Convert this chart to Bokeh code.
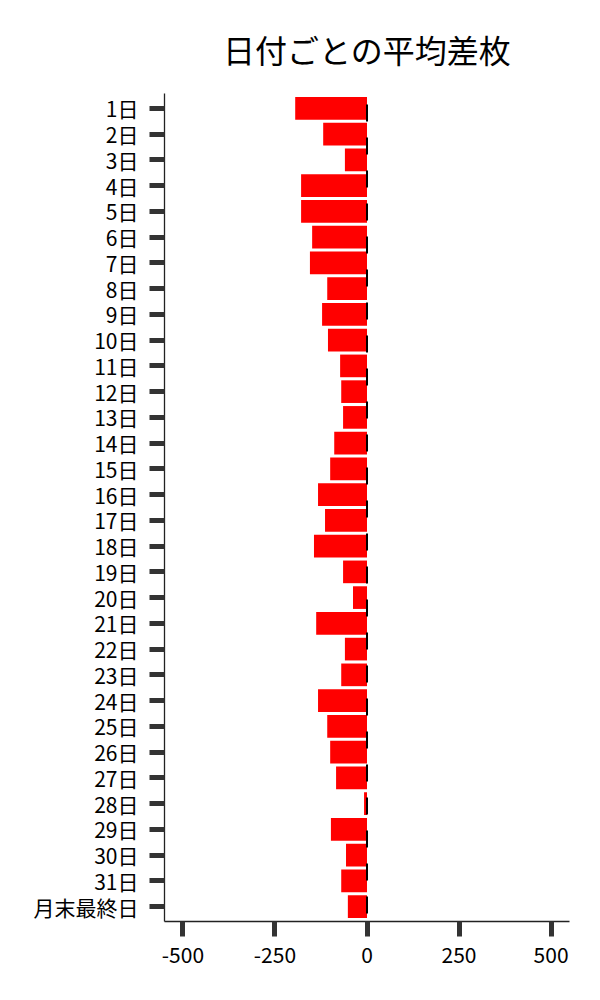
from bokeh.plotting import figure
from bokeh.models import Range1d, FixedTicker, Title
from bokeh.embed import file_html
from bokeh.resources import INLINE

days = [f"{d}日" for d in range(1, 32)] + ["月末最終日"]
avg_diff = [-195, -119, -60, -179, -179, -149, -155, -108, -122, -106,
            -73, -70, -65, -89, -100, -133, -114, -144, -65, -38,
            -138, -60, -70, -133, -108, -100, -84, -8, -98, -57,
            -70, -52]
x_ticks = [-500, -250, 0, 250, 500]
x_tick_labels = ["-500", "-250", "0", "250", "500"]
title_text = "日付ごとの平均差枚"

FONT = "Noto Sans CJK JP"
idx = list(range(len(days)))

p = figure(width=592, height=992, output_backend="svg", toolbar_location=None,
           x_range=Range1d(-550, 550), y_range=Range1d(len(days) - 0.42, -0.58),
           min_border_left=164, min_border_right=23, min_border_top=93,
           min_border_bottom=71, background_fill_color="white",
           border_fill_color="white", outline_line_color=None)

p.title = Title(text=title_text, text_font=FONT, text_font_size="32px",
                text_font_style="normal", align="center",
                text_color="black", standoff=43)

p.hbar(y=idx, left=0, right=avg_diff, height=0.88, fill_color="#ff0000",
       line_color=None)

p.line(x=[0, 0], y=[-0.58, len(days) - 0.42], line_color="black", line_width=2,
       line_dash="17 16", line_dash_offset=22)

p.grid.visible = False

for ax in (p.xaxis[0], p.yaxis[0]):
    ax.axis_line_color = "#222222"
    ax.axis_line_width = 1.3
    ax.major_tick_out = 15
    ax.major_tick_in = 0
    ax.major_tick_line_width = 5
    ax.major_tick_line_color = "#333333"
    ax.minor_tick_line_color = None
    ax.major_label_text_font = FONT
    ax.major_label_text_font_size = "21px"
    ax.major_label_text_color = "black"

p.xaxis[0].ticker = FixedTicker(ticks=x_ticks)
p.xaxis[0].major_label_overrides = {t: s for t, s in zip(x_ticks, x_tick_labels)}
p.xaxis[0].major_label_standoff = 10
p.yaxis[0].ticker = FixedTicker(ticks=idx)
p.yaxis[0].major_label_overrides = {i: d for i, d in zip(idx, days)}
p.yaxis[0].major_label_standoff = 11

open("out.html", "w").write(file_html(p, INLINE))
